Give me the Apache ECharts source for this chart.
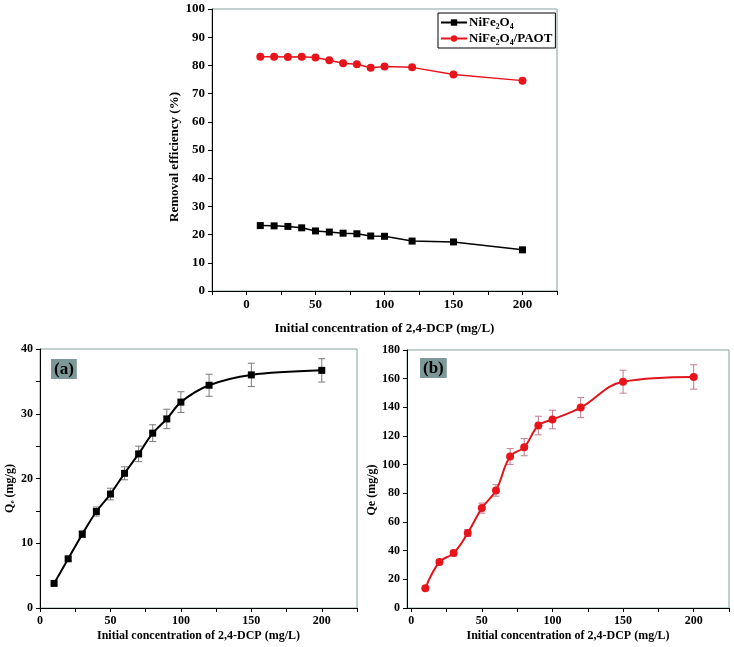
<!DOCTYPE html>
<html><head><meta charset="utf-8">
<script src="https://cdn.jsdelivr.net/npm/echarts@6/dist/echarts.min.js"></script>
<style>html,body{margin:0;padding:0;background:#fff}#c{width:734px;height:647px}</style>
</head><body><div id="c"></div>
<script>
// ---- data ----
const conc = [10, 20, 30, 40, 50, 60, 70, 80, 90, 100, 120, 150, 200];
const removalNiFe = [23.2, 23.1, 22.9, 22.4, 21.3, 20.9, 20.5, 20.3, 19.5, 19.4, 17.7, 17.4, 14.6];
const removalPAOT = [83.1, 83.1, 83.0, 83.1, 82.8, 81.8, 80.8, 80.4, 79.2, 79.6, 79.3, 76.8, 74.6];
const qeA = [3.8, 7.6, 11.4, 14.9, 17.6, 20.8, 23.8, 27.0, 29.2, 31.8, 34.4, 36.0, 36.7];
const errA = [0.2, 0.3, 0.5, 0.7, 0.9, 1.0, 1.2, 1.3, 1.5, 1.6, 1.7, 1.8, 1.8];
const qeB = [13.7, 32.1, 38.3, 52.3, 69.7, 82.0, 105.7, 112.2, 127.3, 131.5, 139.8, 157.9, 161.2];
const errB = [1.0, 1.5, 2.0, 2.5, 3.5, 4.0, 5.5, 6.0, 6.5, 6.5, 7.0, 8.0, 8.5];
const seriesNames = ['NiFe₂O₄', 'NiFe₂O₄/PAOT'];
const xLabelTicks = [0, 50, 100, 150, 200];
const xMinorTicksTop = [-25, 0, 25, 50, 75, 100, 125, 150, 175, 200, 225];
const xMinorTicksBottom = [0, 25, 50, 75, 100, 125, 150, 175, 200, 225];
const yTicksTop = [0, 10, 20, 30, 40, 50, 60, 70, 80, 90, 100];
const yLabelsA = [0, 10, 20, 30, 40];
const yTicksA = [0, 5, 10, 15, 20, 25, 30, 35, 40];
const yTicksB = [0, 20, 40, 60, 80, 100, 120, 140, 160, 180];
const xName = 'Initial concentration of 2,4-DCP (mg/L)';

const FONT = '"Liberation Serif","Times New Roman","DejaVu Serif",serif';
const chart = echarts.init(document.getElementById('c'));

function xAxisCfg(gi, min, labelVals, tickVals, fs, lfs, gap) {
  return {
    type: 'value', gridIndex: gi, min: min, max: 225,
    name: xName, nameLocation: 'middle', nameGap: gap,
    nameTextStyle: {fontFamily: FONT, fontWeight: 'bold', fontSize: fs, color: '#000'},
    axisLine: {show: true, onZero: false, lineStyle: {color: '#000', width: 1}},
    axisTick: {show: true, inside: false, length: 4, customValues: tickVals, lineStyle: {color: '#000'}},
    axisLabel: {customValues: labelVals, margin: 7, fontFamily: FONT, fontWeight: 'bold', fontSize: lfs, color: '#000'},
    splitLine: {show: false}
  };
}
function yAxisCfg(gi, min, max, labelVals, tickVals, name, gap, fs, lfs, shift) {
  return {
    type: 'value', gridIndex: gi, min: min, max: max,
    name: name, nameLocation: 'middle', nameGap: gap,
    nameTextStyle: {fontFamily: FONT, fontWeight: 'bold', fontSize: fs, color: '#000', padding: [0, shift, 0, 0]},
    axisLine: {show: true, onZero: false, lineStyle: {color: '#000', width: 1}},
    axisTick: {show: true, inside: false, length: 4, customValues: tickVals, lineStyle: {color: '#000'}},
    axisLabel: {customValues: labelVals, margin: 7, fontFamily: FONT, fontWeight: 'bold', fontSize: lfs, color: '#000'},
    splitLine: {show: false}
  };
}
function errSeries(xi, ys, errs, color) {
  return {
    type: 'custom', xAxisIndex: xi, yAxisIndex: xi, silent: true, z: 1,
    data: conc.map((x, i) => [x, ys[i] - errs[i], ys[i] + errs[i]]),
    renderItem: function (params, api) {
      const lo = api.coord([api.value(0), api.value(1)]);
      const hi = api.coord([api.value(0), api.value(2)]);
      const w = 3.5;
      const st = {stroke: color, lineWidth: 1};
      return {type: 'group', children: [
        {type: 'line', shape: {x1: lo[0], y1: lo[1], x2: hi[0], y2: hi[1]}, style: st},
        {type: 'line', shape: {x1: lo[0] - w, y1: lo[1], x2: lo[0] + w, y2: lo[1]}, style: st},
        {type: 'line', shape: {x1: hi[0] - w, y1: hi[1], x2: hi[0] + w, y2: hi[1]}, style: st}
      ]};
    }
  };
}
const frame = {show: true, borderColor: '#86a0a0', borderWidth: 1, backgroundColor: 'transparent'};

const option = {
  backgroundColor: '#fff',
  animation: false,
  title: [
    {text: '(a)', left: 51, top: 359, padding: [2, 3, 1, 3], backgroundColor: '#7d9898',
     textStyle: {fontFamily: FONT, fontWeight: 'bold', fontSize: 17, color: '#000'}},
    {text: '(b)', left: 420, top: 358, padding: [2, 3, 1, 3], backgroundColor: '#7d9898',
     textStyle: {fontFamily: FONT, fontWeight: 'bold', fontSize: 17, color: '#000'}}
  ],
  legend: {
    left: 438, top: 13, orient: 'vertical', itemGap: 3, itemWidth: 26, itemHeight: 8,
    borderColor: '#000', borderWidth: 1, padding: [3, 3, 3, 2], backgroundColor: '#fff',
    data: seriesNames,
    textStyle: {fontFamily: FONT, fontWeight: 'bold', fontSize: 13, color: '#000', padding: [0, 0, 0, -3]}
  },
  grid: [
    Object.assign({left: 212, top: 9, width: 345, height: 282}, frame),
    Object.assign({left: 40, top: 349, width: 317, height: 259}, frame),
    Object.assign({left: 407, top: 350, width: 322, height: 258}, frame)
  ],
  xAxis: [
    xAxisCfg(0, -25, xLabelTicks, xMinorTicksTop, 13, 13, 31),
    xAxisCfg(1, 0, xLabelTicks, xMinorTicksBottom, 12, 12, 22),
    xAxisCfg(2, -3, xLabelTicks, xMinorTicksBottom, 12, 12, 22)
  ],
  yAxis: [
    yAxisCfg(0, 0, 100, yTicksTop, yTicksTop, 'Removal efficiency (%)', 25, 13, 13, 14),
    yAxisCfg(1, 0, 40, yLabelsA, yTicksA, 'Qₑ (mg/g)', 24, 12, 12, 20),
    yAxisCfg(2, 0, 180, yTicksB, yTicksB, 'Qe (mg/g)', 26, 12, 12, 22)
  ],
  series: [
    {name: seriesNames[0], type: 'line', xAxisIndex: 0, yAxisIndex: 0, data: conc.map((x, i) => [x, removalNiFe[i]]),
     symbol: 'rect', symbolSize: 7, lineStyle: {color: '#000', width: 1.5}, itemStyle: {color: '#000'}},
    {name: seriesNames[1], type: 'line', xAxisIndex: 0, yAxisIndex: 0, data: conc.map((x, i) => [x, removalPAOT[i]]),
     symbol: 'circle', symbolSize: 8, lineStyle: {color: '#e8141c', width: 1.5}, itemStyle: {color: '#e8141c'}},
    errSeries(1, qeA, errA, '#7a7a7a'),
    {type: 'line', xAxisIndex: 1, yAxisIndex: 1, data: conc.map((x, i) => [x, qeA[i]]), smooth: 0.3, z: 3,
     symbol: 'rect', symbolSize: 7, lineStyle: {color: '#000', width: 2}, itemStyle: {color: '#000'}},
    errSeries(2, qeB, errB, '#c27a90'),
    {type: 'line', xAxisIndex: 2, yAxisIndex: 2, data: conc.map((x, i) => [x, qeB[i]]), smooth: 0.4, z: 3,
     symbol: 'circle', symbolSize: 8, lineStyle: {color: '#e0141c', width: 2}, itemStyle: {color: '#e8141c'}}
  ]
};
chart.setOption(option);
</script></body></html>
